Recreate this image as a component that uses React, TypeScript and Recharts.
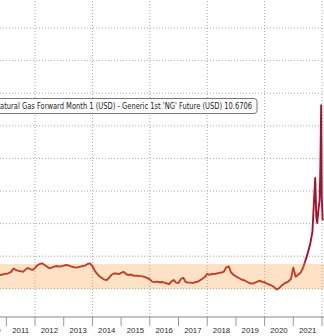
import React from 'react';
import { LineChart, Line, XAxis, YAxis, ReferenceLine, ReferenceArea } from 'recharts';

// Spread series (USD)
const dates: string[] = [
  '2010-10', '2010-11', '2010-12',
  '2011-01', '2011-02', '2011-03', '2011-04', '2011-05', '2011-06', '2011-07', '2011-08', '2011-09', '2011-10', '2011-11', '2011-12',
  '2012-01', '2012-02', '2012-03', '2012-04', '2012-05', '2012-06', '2012-07', '2012-08', '2012-09', '2012-10', '2012-11', '2012-12',
  '2013-01', '2013-02', '2013-03', '2013-04', '2013-05', '2013-06', '2013-07', '2013-08', '2013-09', '2013-10', '2013-11', '2013-12',
  '2014-01', '2014-02', '2014-03', '2014-04', '2014-05', '2014-06', '2014-07', '2014-08', '2014-09', '2014-10', '2014-11', '2014-12',
  '2015-01', '2015-02', '2015-03', '2015-04', '2015-05', '2015-06', '2015-07', '2015-08', '2015-09', '2015-10', '2015-11', '2015-12',
  '2016-01', '2016-02', '2016-03', '2016-04', '2016-05', '2016-06', '2016-07', '2016-08', '2016-09', '2016-10', '2016-11', '2016-12',
  '2017-01', '2017-02', '2017-03', '2017-04', '2017-05', '2017-06', '2017-07', '2017-08', '2017-09', '2017-10', '2017-11', '2017-12',
  '2018-01', '2018-02', '2018-03', '2018-04', '2018-05', '2018-06', '2018-07', '2018-08', '2018-09', '2018-10', '2018-11', '2018-12',
  '2019-01', '2019-02', '2019-03', '2019-04', '2019-05', '2019-06', '2019-07', '2019-08', '2019-09', '2019-10', '2019-11', '2019-12',
  '2020-01', '2020-02', '2020-03', '2020-04', '2020-05', '2020-06', '2020-07', '2020-08', '2020-09', '2020-10', '2020-11', '2020-12',
  '2021-01', '2021-02', '2021-03', '2021-04', '2021-05', '2021-06', '2021-07', '2021-08', '2021-09',
  '2021-10-06', '2021-10-20', '2021-11-01', '2021-11-20', '2021-12-01', '2021-12-10', '2021-12-21', '2021-12-28', '2022-01-05', '2022-01-10',
];

const spread: number[] = [
  4.2, 4.3, 4.5,
  4.6, 4.8, 5.2, 6.2, 5.8, 5.5, 5.4, 5.2, 5.9, 6.4, 6.0, 5.8,
  6.4, 7.2, 7.6, 7.8, 7.3, 6.8, 6.3, 6.5, 6.8, 7.0, 6.8, 6.9,
  7.1, 7.3, 7.2, 6.9, 6.7, 6.5, 6.6, 6.8, 7.0, 7.2, 7.6, 7.8,
  7.0, 5.5, 4.6, 3.8, 3.3, 2.8, 2.7, 3.4, 4.3, 4.7, 4.7, 4.5,
  4.9, 5.2, 4.6, 4.2, 4.4, 4.1, 4.0, 4.0, 3.9, 3.8, 3.6, 3.3,
  2.9, 2.2, 2.1, 2.2, 2.0, 2.1, 1.9, 1.7, 1.4, 2.2, 2.7, 1.9,
  1.8, 3.0, 3.4, 2.1, 1.9, 1.9, 1.8, 2.0, 2.2, 2.6, 3.1, 3.6,
  4.6, 4.3, 4.6, 4.5, 4.7, 4.9, 5.0, 5.3, 6.6, 6.9, 5.0, 4.3,
  3.8, 3.4, 3.0, 2.7, 2.4, 2.0, 1.7, 1.6, 1.9, 2.2, 2.5, 2.1,
  2.0, 1.6, 1.3, 1.0, 0.5, -0.2, 0.1, 0.9, 1.5, 1.9, 2.3, 3.0,
  6.5, 3.7, 4.3, 4.9, 6.3, 8.5, 10.8, 13.5, 17.5,
  34.0, 22.0, 20.2, 25.0, 27.0, 36.0, 56.3, 28.0, 24.0, 21.0,
];

const yearTicks: number[] = [2011, 2012, 2013, 2014, 2015, 2016, 2017, 2018, 2019, 2020, 2021, 2022];
const gridYears: number[] = [2012, 2014, 2016, 2018, 2020, 2022];
const gridValues: number[] = [0, 10, 20, 30, 40, 50, 60, 70, 80];
const bandLow = -0.05;
const bandHigh = 7.6;
const legendText = "Natural Gas Forward Month 1 (USD) - Generic 1st 'NG' Future (USD) 10.6706";

const toYear = (s: string): number => {
  const p = s.split('-').map(Number);
  return p[0] + (p[1] - 1) / 12 + (p[2] ? (p[2] - 1) / 365 : 0);
};

const data = dates.map((d, i) => ({ t: toYear(d), v: spread[i] }));

const YearTick = (props: any) => {
  const { x, payload } = props;
  const half = 14.35;
  return (
    <g>
      <line x1={x} y1={317} x2={x} y2={326} stroke="#999" strokeWidth={1} />
      <text
        x={x - half}
        y={333}
        textAnchor="middle"
        fontSize={7.8}
        fontFamily="'Liberation Sans', Arial, sans-serif"
        fill="#2a2a2a"
      >
        {String(payload.value - 1)}
      </text>
    </g>
  );
};

export default function App() {
  return (
    <div style={{ position: 'absolute', left: 0, top: 0, width: 324, height: 336, background: '#fff', overflow: 'hidden' }}>
      <LineChart width={324} height={336} data={data} margin={{ top: 0, right: 0, bottom: 0, left: 0 }}>
        <defs>
          <linearGradient id="lineGrad" gradientUnits="userSpaceOnUse" x1="0" y1="0" x2="0" y2="336">
            <stop offset="0" stopColor="#a8102c" />
            <stop offset="0.775" stopColor="#a8102c" />
            <stop offset="0.785" stopColor="#c0402a" />
            <stop offset="1" stopColor="#c0402a" />
          </linearGradient>
        </defs>
        <XAxis
          dataKey="t"
          type="number"
          domain={[2010.78, 2022.07]}
          allowDataOverflow
          ticks={yearTicks}
          interval={0}
          tick={<YearTick />}
          tickLine={false}
          axisLine={{ stroke: '#888', strokeWidth: 1 }}
          height={19}
        />
        <YAxis hide type="number" domain={[-8.65, 88.6]} allowDataOverflow />
        <ReferenceArea y1={bandLow} y2={bandHigh} fill="#fde2c5" fillOpacity={1} stroke="none" ifOverflow="hidden" />
        {gridValues.map((g) => (
          <ReferenceLine key={'h' + g} y={g} stroke="#a8a8a8" strokeDasharray="1 2" strokeWidth={1} />
        ))}
        {gridYears.map((g) => (
          <ReferenceLine key={'v' + g} x={g} stroke="#a8a8a8" strokeDasharray="1 2" strokeWidth={1} />
        ))}
        <Line
          type="linear"
          dataKey="v"
          stroke="url(#lineGrad)"
          strokeWidth={1.9}
          strokeLinejoin="round"
          dot={false}
          isAnimationActive={false}
        />
      </LineChart>
      <svg width={324} height={336} style={{ position: 'absolute', left: 0, top: 0, pointerEvents: 'none' }}>
        <rect x={-6} y={98.5} width={263} height={15} rx={3} ry={3} fill="#fff" stroke="#777" strokeWidth={1} />
        <text
          x={-5}
          y={109}
          fontSize={8}
          fontFamily="'DejaVu Sans', Verdana, sans-serif"
          fill="#222"
          textLength={257}
          lengthAdjust="spacingAndGlyphs"
        >
          {legendText}
        </text>
      </svg>
    </div>
  );
}
